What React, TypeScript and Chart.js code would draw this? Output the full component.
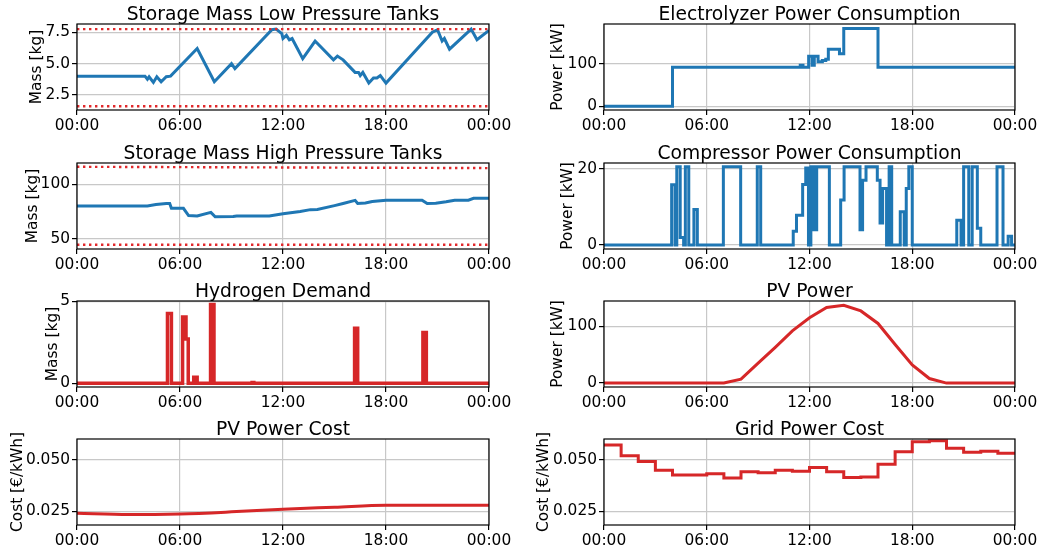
import React, { useEffect, useRef } from 'react';
import { Chart, registerables } from 'chart.js';

Chart.register(...registerables);

const FONT = 'DejaVu Sans';
const BLUE = '#1f77b4';
const RED = '#d62728';
const TICK_SIZE = 15.4;
const TITLE_SIZE = 18.7;

// ---------- axis ticks ----------
const xTickHours = [0, 6, 12, 18, 24];
const xTickLabels = ['00:00', '06:00', '12:00', '18:00', '00:00'];

// ---------- Storage mass, low pressure tanks ----------
const lpHours = [0, 3.96, 4.1, 4.2, 4.45, 4.65, 4.9, 5.2, 5.45, 7.0, 8.0, 9.0, 9.2, 11.35, 11.6, 11.93, 12.0, 12.2, 12.37, 12.53, 13.15, 13.87, 14.94, 15.17, 15.5, 16.2, 16.4, 16.5, 16.65, 17.0, 17.27, 17.47, 17.67, 18.0, 20.7, 21.0, 21.27, 21.4, 21.7, 22.96, 23.3, 24];
const lpMass = [4.0, 4.0, 3.75, 3.95, 3.5, 3.95, 3.55, 3.95, 4.0, 6.2, 3.55, 5.0, 4.6, 7.7, 7.75, 7.4, 7.0, 7.25, 6.9, 7.0, 5.4, 6.8, 5.3, 5.6, 5.3, 4.3, 4.3, 4.05, 4.3, 3.45, 3.85, 3.85, 4.05, 3.45, 7.5, 7.7, 6.8, 7.0, 6.15, 7.75, 6.9, 7.65];
const lpLimitHours = [0, 24];
const lpMaxLimit = [7.75, 7.75];
const lpMinLimit = [1.6, 1.6];
const lpTicks = [2.5, 5.0, 7.5];

// ---------- Storage mass, high pressure tanks ----------
const hpHours = [0, 4.1, 4.6, 5.2, 5.4, 5.5, 6.2, 6.5, 7.0, 7.8, 8.05, 9.1, 9.3, 11.2, 12.0, 13.0, 13.6, 14.0, 15.0, 15.5, 16.2, 16.35, 16.8, 17.2, 18.0, 20.1, 20.4, 20.9, 21.5, 22.0, 22.8, 23.1, 24];
const hpMass = [80.2, 80.2, 81.5, 82.4, 82.4, 78, 78, 71.3, 71, 74.3, 70.2, 70.4, 71, 71, 73, 75, 76.8, 77, 80.5, 82.4, 85.3, 82.4, 83, 84.2, 85.5, 85.5, 82.4, 82.6, 84, 85.5, 85.5, 87.2, 87.2];
const hpLimitHours = [0, 24];
const hpMaxLimit = [116.3, 115.1];
const hpMinLimit = [44.4, 44.4];
const hpTicks = [50, 100];

// ---------- Electrolyzer power (step starts) ----------
const elecHours = [0, 4.0, 11.46, 11.62, 11.95, 12.15, 12.28, 12.5, 12.75, 12.95, 13.1, 13.75, 14.0, 16.0, 24];
const elecPower = [0, 92, 97, 92, 118, 97, 118, 105, 108, 111, 135, 124, 184, 92, 92];
const elecTicks = [0, 100];

// ---------- Compressor power (step starts) ----------
const compHours = [0, 3.95, 4.15, 4.25, 4.45, 4.65, 4.75, 4.95, 5.25, 5.45, 6.97, 7.98, 8.95, 9.15, 11.05, 11.24, 11.6, 11.78, 11.94, 12.08, 12.25, 12.42, 13.16, 13.82, 14.02, 14.95, 15.1, 15.3, 15.96, 16.12, 16.27, 16.5, 16.65, 16.8, 17.3, 17.53, 17.65, 17.8, 18.0, 20.6, 20.85, 21.0, 21.3, 21.5, 21.8, 22.0, 22.95, 23.3, 23.6, 23.8, 24];
const compPower = [0, 15.8, 0, 20.5, 2, 0, 20.5, 0, 9.3, 0, 20.5, 0, 20.5, 0, 3.6, 7.8, 15.9, 20.2, 0, 20.5, 4, 20.5, 0, 11.8, 20.5, 4, 17, 20.5, 17, 5.8, 14.8, 0, 20.5, 0, 8.7, 0, 14.8, 20.5, 0, 6.5, 0, 20.5, 0, 20.5, 4.4, 0, 20.5, 0, 2.3, 0, 0];
const compTicks = [0, 20];

// ---------- Hydrogen demand (step starts) ----------
const h2Hours = [0, 5.27, 5.5, 6.15, 6.35, 6.48, 6.8, 7.0, 7.78, 7.98, 10.2, 10.3, 16.17, 16.35, 20.15, 20.35, 24];
const h2Demand = [0, 4.25, 0, 4.05, 2.7, 0, 0.36, 0, 4.8, 0, 0.05, 0, 3.35, 0, 3.1, 0, 0];
const h2Ticks = [0, 5];

// ---------- PV power (hourly) ----------
const pvHours = [0, 1, 2, 3, 4, 5, 6, 7, 8, 9, 10, 11, 12, 13, 14, 15, 16, 17, 18, 19, 20, 21, 22, 23, 24];
const pvPower = [0, 0, 0, 0, 0, 0, 0, 0, 7, 35, 63, 92, 115, 133, 137, 127, 105, 68, 32, 8, 0, 0, 0, 0, 0];
const pvTicks = [0, 100];

// ---------- PV power cost ----------
const pvCostHours = [0, 3, 6, 9, 12, 15, 18, 21, 24];
const pvCost = [0.0240, 0.02338, 0.0237, 0.0247, 0.02597, 0.02695, 0.02792, 0.0279, 0.0279];

// ---------- Grid power cost (hourly step starts) ----------
const gridHours = [0, 1, 2, 3, 4, 5, 6, 7, 8, 9, 10, 11, 12, 13, 14, 15, 16, 17, 18, 19, 20, 21, 22, 23, 24];
const gridCost = [0.0573, 0.052, 0.0492, 0.045, 0.0427, 0.0427, 0.0433, 0.0412, 0.0443, 0.0438, 0.045, 0.0445, 0.0463, 0.0443, 0.0414, 0.0417, 0.0479, 0.054, 0.0588, 0.0593, 0.0557, 0.0537, 0.0542, 0.0532, 0.0532];
const costTicks = [0.025, 0.05];

// ---------- layout ----------
const ROW_TOPS = [24, 163, 301, 439];
const COL_LEFTS = [77, 604];
const COL_WIDTHS = [412, 411];
const PLOT_H = 86;
const LEFT_M = 77;
const TOP_M = 24;
const BOTTOM_M = 27;
const RIGHT_M = 26;

const pts = (xs: number[], ys: number[]) => xs.map((x, i) => ({ x, y: ys[i] }));

const lineDs = (xs: number[], ys: number[], color: string, extra: any = {}) => ({
  data: pts(xs, ys),
  borderColor: color,
  backgroundColor: color,
  borderWidth: 3,
  pointRadius: 0,
  fill: false,
  tension: 0,
  ...extra,
});

const limitDs = (xs: number[], ys: number[]) => ({
  data: pts(xs, ys),
  borderColor: '#e0282b',
  borderWidth: 2.4,
  borderDash: [2.4, 3.6],
  borderCapStyle: 'butt',
  pointRadius: 0,
  fill: false,
});

const titlePlugin = {
  id: 'panelTitle',
  afterDraw(chart: any, _args: any, opts: any) {
    const { ctx, chartArea } = chart;
    ctx.save();
    ctx.font = `${TITLE_SIZE}px "${FONT}"`;
    ctx.fillStyle = '#000';
    ctx.textAlign = 'center';
    ctx.textBaseline = 'alphabetic';
    ctx.fillText(opts.text, (chartArea.left + chartArea.right) / 2, chartArea.top - 4);
    ctx.restore();
  },
};

const framePlugin = {
  id: 'panelFrame',
  afterDatasetsDraw(chart: any) {
    const { ctx, chartArea } = chart;
    ctx.save();
    ctx.strokeStyle = '#000';
    ctx.lineWidth = 1.2;
    ctx.strokeRect(chartArea.left, chartArea.top, chartArea.right - chartArea.left, chartArea.bottom - chartArea.top);
    ctx.restore();
  },
};

type Spec = {
  title: string;
  yLabel: string;
  labelPad: number;
  yMin: number;
  yMax: number;
  yTicks: number[];
  yFmt: (v: number) => string;
  datasets: any[];
  row: number;
  col: number;
};

const specs: Spec[] = [
  {
    title: 'Storage Mass Low Pressure Tanks', yLabel: 'Mass [kg]', labelPad: 27.8,
    yMin: 1.3, yMax: 8.16, yTicks: lpTicks, yFmt: (v) => v.toFixed(1), row: 0, col: 0,
    datasets: [limitDs(lpLimitHours, lpMaxLimit), limitDs(lpLimitHours, lpMinLimit), lineDs(lpHours, lpMass, BLUE)],
  },
  {
    title: 'Electrolyzer Power Consumption', yLabel: 'Power [kW]', labelPad: 21.8,
    yMin: -9, yMax: 194.5, yTicks: elecTicks, yFmt: (v) => String(v), row: 0, col: 1,
    datasets: [lineDs(elecHours, elecPower, BLUE, { stepped: 'before' })],
  },
  {
    title: 'Storage Mass High Pressure Tanks', yLabel: 'Mass [kg]', labelPad: 23.8,
    yMin: 40.5, yMax: 119.8, yTicks: hpTicks, yFmt: (v) => String(v), row: 1, col: 0,
    datasets: [limitDs(hpLimitHours, hpMaxLimit), limitDs(hpLimitHours, hpMinLimit), lineDs(hpHours, hpMass, BLUE)],
  },
  {
    title: 'Compressor Power Consumption', yLabel: 'Power [kW]', labelPad: 31.8,
    yMin: -1.03, yMax: 21.5, yTicks: compTicks, yFmt: (v) => String(v), row: 1, col: 1,
    datasets: [lineDs(compHours, compPower, BLUE, { stepped: 'before' })],
  },
  {
    title: 'Hydrogen Demand', yLabel: 'Mass [kg]', labelPad: 43.8,
    yMin: -0.23, yMax: 5.02, yTicks: h2Ticks, yFmt: (v) => String(v), row: 2, col: 0,
    datasets: [lineDs(h2Hours, h2Demand, RED, { stepped: 'before', borderWidth: 3.5 })],
  },
  {
    title: 'PV Power', yLabel: 'Power [kW]', labelPad: 21.8,
    yMin: -6.9, yMax: 144.5, yTicks: pvTicks, yFmt: (v) => String(v), row: 2, col: 1,
    datasets: [lineDs(pvHours, pvPower, RED)],
  },
  {
    title: 'PV Power Cost', yLabel: 'Cost [€/kWh]', labelPad: 8.8,
    yMin: 0.0183, yMax: 0.0602, yTicks: costTicks, yFmt: (v) => v.toFixed(3), row: 3, col: 0,
    datasets: [lineDs(pvCostHours, pvCost, RED, { cubicInterpolationMode: 'monotone' })],
  },
  {
    title: 'Grid Power Cost', yLabel: 'Cost [€/kWh]', labelPad: 7.3,
    yMin: 0.0183, yMax: 0.0602, yTicks: costTicks, yFmt: (v) => v.toFixed(3), row: 3, col: 1,
    datasets: [lineDs(gridHours, gridCost, RED, { stepped: 'before' })],
  },
];

function Panel({ spec }: { spec: Spec }) {
  const ref = useRef<HTMLCanvasElement>(null);
  const w = LEFT_M + COL_WIDTHS[spec.col] + RIGHT_M;
  const h = TOP_M + PLOT_H + BOTTOM_M;
  const left = COL_LEFTS[spec.col] - LEFT_M;
  const top = ROW_TOPS[spec.row] - TOP_M;

  useEffect(() => {
    const gridCfg = { color: '#c8c8c8', lineWidth: 1.2, tickColor: '#000', tickLength: 5, tickWidth: 1.2 };
    const chart = new Chart(ref.current as HTMLCanvasElement, {
      type: 'line',
      data: { datasets: spec.datasets },
      options: {
        animation: false,
        responsive: false,
        devicePixelRatio: 1,
        layout: { padding: { top: TOP_M, right: RIGHT_M, left: 0, bottom: 0 } },
        plugins: {
          legend: { display: false },
          tooltip: { enabled: false },
          panelTitle: { text: spec.title },
        } as any,
        scales: {
          x: {
            type: 'linear',
            min: 0,
            max: 24,
            afterBuildTicks: (s: any) => { s.ticks = xTickHours.map((v) => ({ value: v })); },
            afterFit: (s: any) => { s.height = BOTTOM_M; },
            ticks: {
              autoSkip: false,
              maxRotation: 0,
              padding: 2,
              color: '#000',
              font: { family: FONT, size: TICK_SIZE },
              callback: (_v: any, i: number) => xTickLabels[i],
            },
            grid: gridCfg,
            border: { display: false },
          },
          y: {
            type: 'linear',
            min: spec.yMin,
            max: spec.yMax,
            afterBuildTicks: (s: any) => { s.ticks = spec.yTicks.map((v) => ({ value: v })); },
            afterFit: (s: any) => { s.width = LEFT_M; },
            ticks: {
              padding: 2,
              color: '#000',
              font: { family: FONT, size: TICK_SIZE },
              callback: (v: any) => spec.yFmt(Number(v)),
            },
            grid: gridCfg,
            border: { display: false },
            title: {
              display: true,
              text: spec.yLabel,
              color: '#000',
              font: { family: FONT, size: TICK_SIZE },
              padding: { top: spec.labelPad, bottom: 0 },
            },
          },
        },
      },
      plugins: [titlePlugin, framePlugin],
    } as any);
    return () => chart.destroy();
  }, []);

  return (
    <canvas
      ref={ref}
      width={w}
      height={h}
      style={{ position: 'absolute', left, top, width: w, height: h }}
    />
  );
}

export default function App() {
  return (
    <div style={{ position: 'absolute', left: 0, top: 0, width: 1041, height: 549, background: '#fff', overflow: 'hidden', fontFamily: FONT }}>
      {specs.map((s, i) => (
        <Panel key={i} spec={s} />
      ))}
    </div>
  );
}
